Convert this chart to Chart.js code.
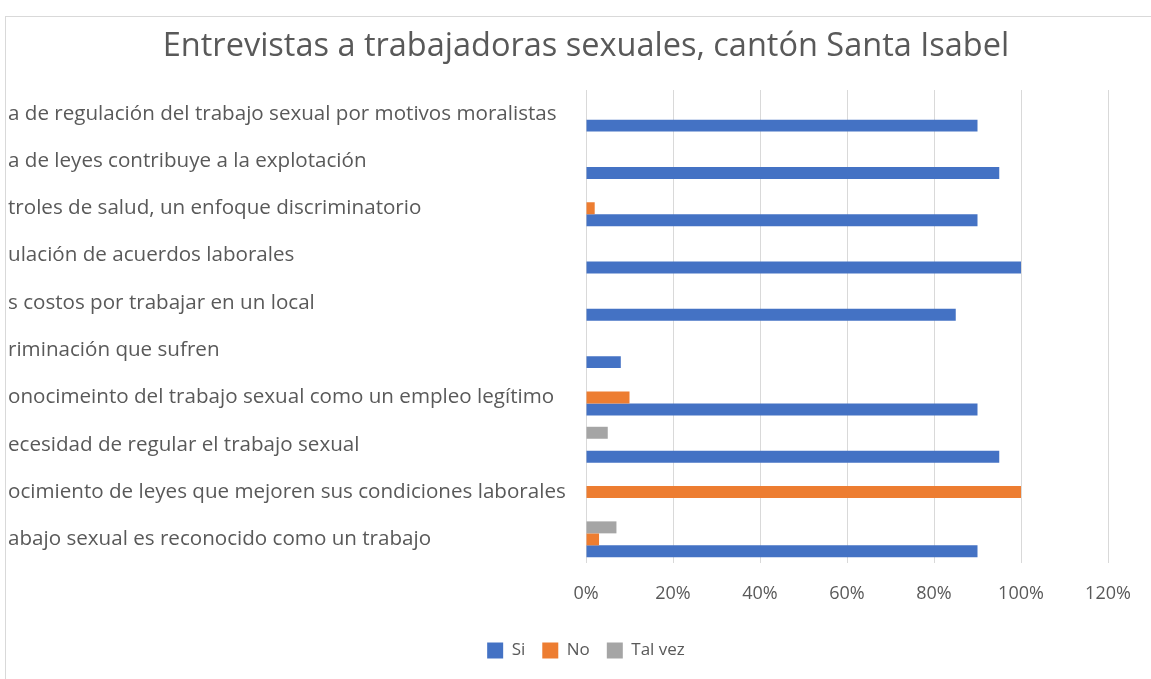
<!DOCTYPE html>
<html>
<head>
<meta charset="utf-8">
<script src="https://cdn.jsdelivr.net/npm/chart.js@4.4.1/dist/chart.umd.min.js"></script>
<style>
  html, body { margin: 0; padding: 0; background: #fff; overflow: hidden; }
  #wrap { position: relative; width: 1151px; height: 679px; overflow: hidden; }
  #marco { position: absolute; left: 5px; top: 16px; right: 0; bottom: 0; border-top: 1px solid #d9d9d9; border-left: 1px solid #d9d9d9; }
  canvas { position: absolute; left: 0; top: 0; }
</style>
</head>
<body>
<div id="wrap">
  <div id="marco"></div>
  <canvas id="grafico" width="1207" height="679"></canvas>
</div>
<script>
var titulo = 'Entrevistas a trabajadoras sexuales, cantón Santa Isabel';

// categorias de arriba hacia abajo (tal como se ven, cortadas a la izquierda)
var preguntas = [
    'a de regulación del trabajo sexual por motivos moralistas',
    'a de leyes contribuye a la explotación',
    'troles de salud, un enfoque discriminatorio',
    'ulación de acuerdos laborales',
    's costos por trabajar en un local',
    'riminación que sufren',
    'onocimeinto del trabajo sexual como un empleo legítimo',
    'ecesidad de regular el trabajo sexual',
    'ocimiento de leyes que mejoren sus condiciones laborales',
    'abajo sexual es reconocido como un trabajo'
];

var respuestaSi = [90, 95, 90, 100, 85, 8, 90, 95, 0, 90];
var respuestaNo = [0, 0, 2, 0, 0, 0, 10, 0, 100, 3];
var respuestaTalVez = [0, 0, 0, 0, 0, 0, 0, 5, 0, 7];

var ticksX = [0, 20, 40, 60, 80, 100, 120];

var gris = '#595959';
var fuente = "'Open Sans', 'DejaVu Sans', sans-serif";

var ctx = document.getElementById('grafico').getContext('2d');

var chart = new Chart(ctx, {
    type: 'bar',
    data: {
        labels: preguntas,
        datasets: [{
                label: 'Tal vez',
                data: respuestaTalVez,
                backgroundColor: '#A5A5A5'
            }, {
                label: 'No',
                data: respuestaNo,
                backgroundColor: '#ED7D31'
            }, {
                label: 'Si',
                data: respuestaSi,
                backgroundColor: '#4472C4'
            }]
    },
    options: {
        indexAxis: 'y',
        responsive: false,
        animation: false,
        layout: {
            padding: { left: 8, right: 43, top: 27, bottom: 10 }
        },
        datasets: {
            bar: {
                categoryPercentage: 0.76,
                barPercentage: 1.0
            }
        },
        scales: {
            x: {
                min: 0,
                max: 120,
                afterBuildTicks: function (scale) {
                    scale.ticks = ticksX.map(function (v) { return { value: v }; });
                },
                grid: { color: '#d9d9d9', drawTicks: false },
                border: { display: false },
                ticks: {
                    color: gris,
                    padding: 22,
                    font: { family: fuente, size: 18, lineHeight: 1 },
                    callback: function (value) { return value + '%'; }
                }
            },
            y: {
                grid: { display: false },
                border: { display: false },
                afterFit: function (scale) { scale.width = 578; },
                ticks: {
                    color: gris,
                    crossAlign: 'far',
                    autoSkip: false,
                    font: { family: fuente, size: 20.6 }
                }
            },
            // eje vacio a la derecha, solo para correr el titulo y la leyenda
            derecha: {
                type: 'category',
                position: 'right',
                grid: { display: false },
                border: { display: false },
                ticks: { display: false },
                afterFit: function (scale) { scale.width = 56; }
            }
        },
        plugins: {
            title: {
                display: true,
                text: titulo,
                color: gris,
                font: { family: fuente, size: 32.5, weight: 'normal' },
                padding: { top: 0, bottom: 24 }
            },
            legend: {
                position: 'bottom',
                reverse: true,
                labels: {
                    color: gris,
                    boxWidth: 16,
                    boxHeight: 16,
                    padding: 17,
                    font: { family: fuente, size: 17 }
                }
            },
            tooltip: { enabled: false }
        }
    }
});
</script>
</body>
</html>
